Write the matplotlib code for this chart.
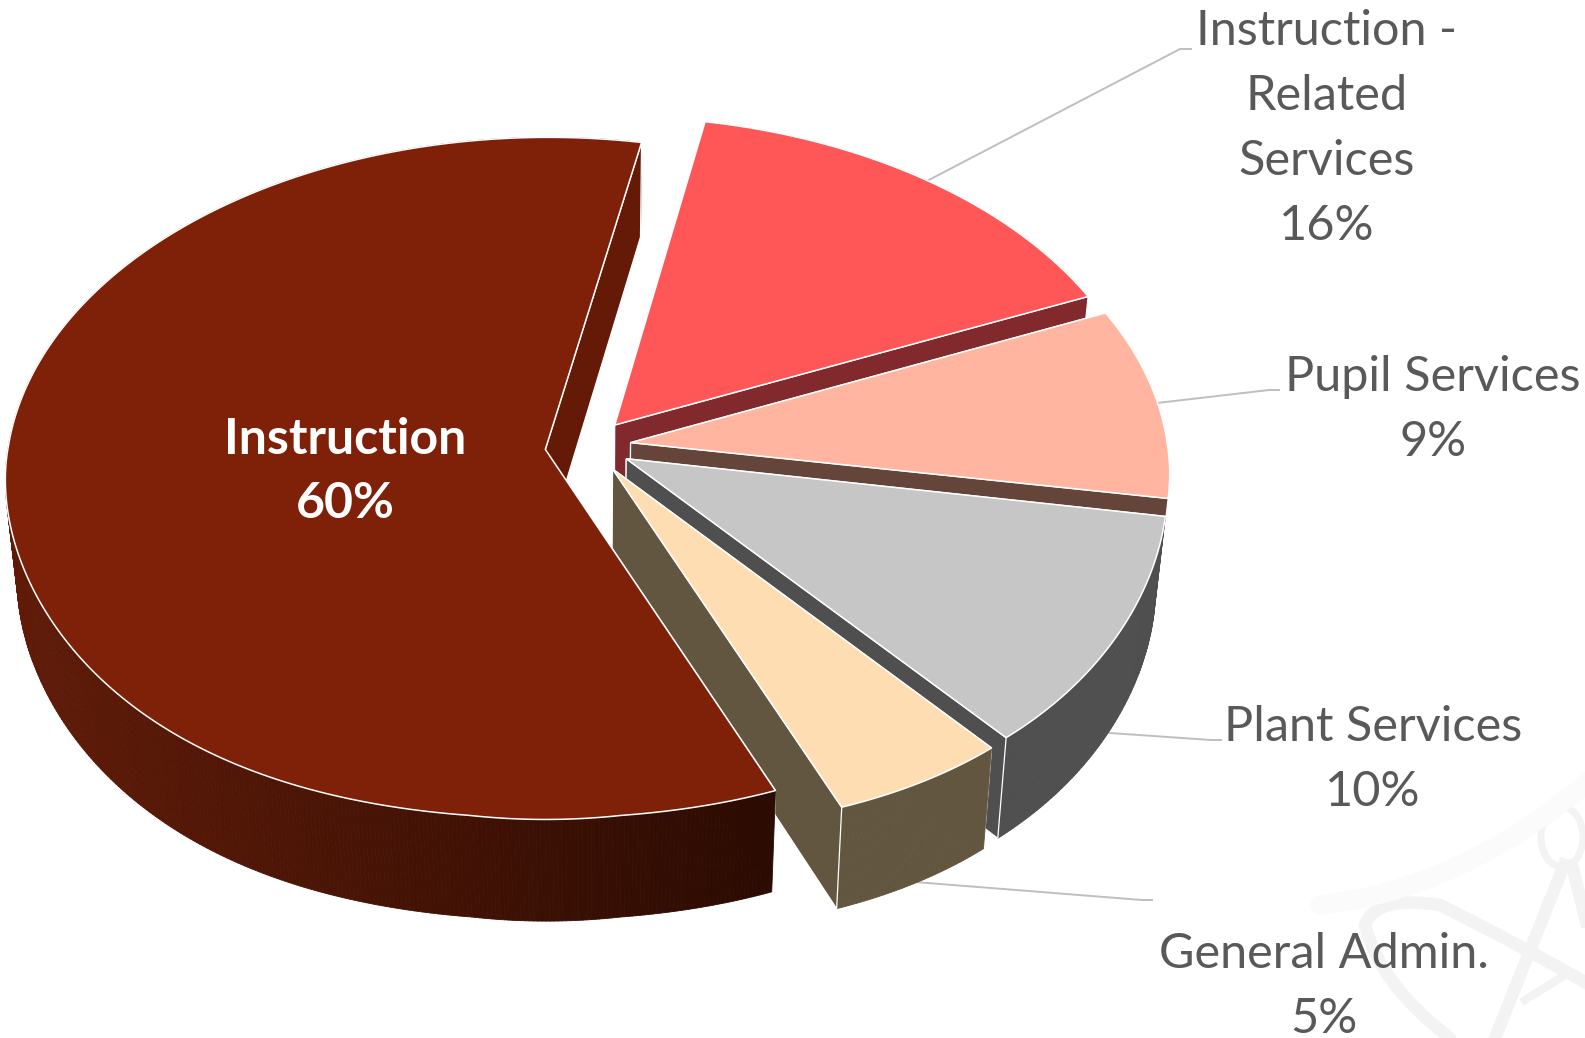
import numpy as np
import matplotlib
matplotlib.use("Agg")
import matplotlib.pyplot as plt
from matplotlib.patches import Polygon, Ellipse, PathPatch
from matplotlib.path import Path
from matplotlib.collections import PolyCollection
from matplotlib.colors import to_rgb

# ---- data (clockwise from the first slice) ----
labels = ["Instruction -\nRelated\nServices", "Pupil Services", "Plant Services", "General Admin.", "Instruction"]
shares = [15.5, 9.0, 10.3, 5.2, 60.0]
pct_labels = ["16%", "9%", "10%", "5%", "60%"]
top_colors = ["#FF5757", "#FFB5A0", "#C6C6C6", "#FFDDB3", "#7F2109"]
cut_colors = ["#81292D", "#654539", "#4F4F4F", "#635640", "#641A06"]
wall_colors = ["", "", "#4F4F4F", "#635640", None]   # "" = wall never visible
cut_depth = [0.6, 0.6, 1.0, 1.0, 1.0]
start_angle = 10.8
explode = 0.08

# ---- projection parameters (pixels) ----
CX, CY, A, B, K, BULGE = 588.0, 446.0, 537.0, 338.0, 0.085, 130.0
DEPTH, DB, XS = 97.8, 3.5, 0.98

def project(u, v, bottom=False):
    u, v = np.asarray(u, float), np.asarray(v, float)
    w = 1 - K * v
    fx = np.where(v < 0, 1 / w, 1 + 0.1 * v * np.clip(1 - v, 0, None))
    extra = BULGE * np.clip(v, 0, None) ** 2 * np.clip(1 - v, 0, None)
    if bottom:
        return CX + XS * A * u * fx, CY + DEPTH + (B + DB) * v / w + extra
    return CX + A * u * fx, CY + B * v / w + extra

fig = plt.figure(figsize=(15.85, 10.38), dpi=100)
ax = fig.add_axes([0, 0, 1, 1])
ax.set_xlim(0, 1585)
ax.set_ylim(1038, 0)
ax.axis("off")

# faint watermark
wm = "#F3F3F3"
def curve(pts, color=wm, lw=9):
    codes = [Path.MOVETO] + [Path.CURVE3] * (len(pts) - 1)
    ax.add_patch(PathPatch(Path(pts, codes), fill=False, ec=color, lw=lw, zorder=0, capstyle="round"))
ax.add_patch(Ellipse((1562, 837), 42, 60, fill=False, ec=wm, lw=5, zorder=0))
ax.plot([1564, 1495], [865, 1038], color=wm, lw=9, zorder=0)
ax.plot([1572, 1592], [865, 945], color=wm, lw=9, zorder=0)
curve([(1365, 925), (1375, 895), (1440, 905), (1520, 945), (1590, 985)])
curve([(1365, 925), (1380, 985), (1450, 1038)])
ax.plot([1525, 1565], [1000, 975], color=wm, lw=6, zorder=0)
curve([(1320, 905), (1460, 890), (1590, 780)], color="#FBFBFB", lw=14)

# leader lines
lead = "#BFBFBF"
for xs, ys in [([925, 1180, 1191], [182, 49, 49]),
               ([1157, 1269, 1279], [403, 390, 390]),
               ([1110, 1211, 1221], [733, 740, 740]),
               ([915, 1142, 1152], [882, 900, 900])]:
    ax.plot(xs, ys, color=lead, lw=1.4, zorder=1)

# slices, back to front
z = 2
a0 = start_angle
for name, sh, ct, cc, cw, dep in zip(labels, shares, top_colors, cut_colors, wall_colors, cut_depth):
    a1 = a0 + sh * 3.6
    mid = np.radians((a0 + a1) / 2)
    u0, v0 = explode * np.sin(mid), -explode * np.cos(mid)
    th = np.radians(np.linspace(a0, a1, max(int(sh * 8), 24)))
    us, vs = u0 + np.sin(th), v0 - np.cos(th)

    tx, ty = project(us, vs)
    bx, by = project(us, vs, True)
    ax0, ay0 = project(u0, v0)
    bx0, by0 = project(u0, v0, True)

    def cut(i):
        p2 = (tx[i] + (bx[i] - tx[i]) * dep, ty[i] + (by[i] - ty[i]) * dep)
        p3 = (ax0 + (bx0 - ax0) * dep, ay0 + (by0 - ay0) * dep)
        ax.add_patch(Polygon([(ax0, ay0), (tx[i], ty[i]), p2, p3],
                             closed=True, fc=cc, ec="white", lw=0.9, zorder=z))
    # hidden cut face, curved wall, visible cut face, top face
    cut(0)
    z += 1
    if cw != "":
        quads = [[(tx[i], ty[i]), (tx[i + 1], ty[i + 1]), (bx[i + 1], by[i + 1]), (bx[i], by[i])]
                 for i in range(len(th) - 1)]
        if cw is None:
            left, right = np.array(to_rgb("#601B08")), np.array(to_rgb("#2C0B02"))
            mx = np.clip((np.array([q[0][0] for q in quads]) - 10) / 750, 0, 1)
            cols = [tuple(left + (right - left) * m) for m in mx]
        else:
            cols = [cw] * len(quads)
        ax.add_collection(PolyCollection(quads, facecolors=cols, edgecolors=cols, linewidths=0.6, zorder=z))
    z += 1
    cut(-1)
    z += 1
    pts = [(ax0, ay0)] + list(zip(tx, ty))
    ax.add_patch(Polygon(pts, closed=True, fc=ct, ec="white", lw=1.1, joinstyle="miter", zorder=z))
    z += 1
    a0 = a1

# labels
family = ["Lato", "DejaVu Sans"]
grey = "#595959"
line_h = 65
def put(x, y_first, lines, fs=35, **kw):
    for i, s in enumerate(lines):
        ax.text(x, y_first + i * line_h, s, ha="center", va="center", fontsize=fs,
                family=family, zorder=50, **kw)

put(1327, 31, labels[0].split("\n") + [pct_labels[0]], color=grey)
put(1433, 377, [labels[1], pct_labels[1]], color=grey)
put(1373, 727, [labels[2], pct_labels[2]], color=grey)
put(1324, 954, [labels[3], pct_labels[3]], color=grey)
put(345, 439, [labels[4], pct_labels[4]], fs=36, color="white", fontweight="bold")

fig.savefig("out.png", dpi=100, facecolor="white")
